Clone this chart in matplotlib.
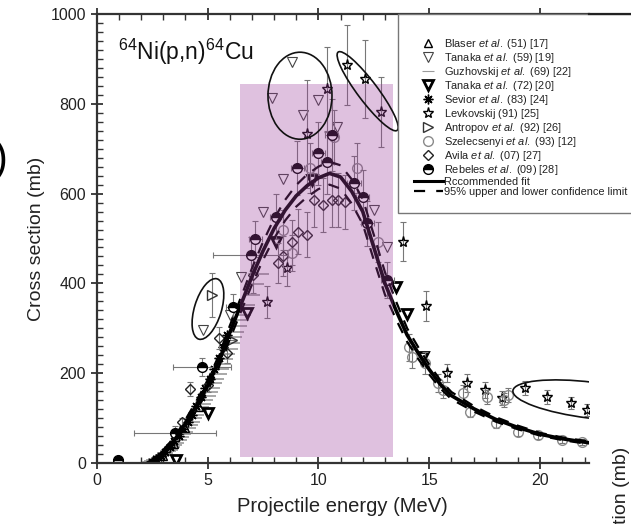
import matplotlib
matplotlib.use('Agg')
import matplotlib.pyplot as plt
from matplotlib.patches import Rectangle, Ellipse
from matplotlib.lines import Line2D
import matplotlib.transforms as mtransforms

plt.rcParams['font.family'] = ['Liberation Sans', 'DejaVu Sans']
plt.rcParams['mathtext.fontset'] = 'custom'
plt.rcParams['mathtext.rm'] = 'Liberation Sans'
plt.rcParams['mathtext.it'] = 'Liberation Sans:italic'

# ---- data (energy in MeV, cross section in mb) ----
blaser_e = [3.0, 3.5, 4.0, 4.6]
blaser_xs = [15, 42, 78, 125]

tanaka59_e = [8.8, 7.9, 10.0, 9.3, 10.85, 8.4, 7.5, 6.5, 12.5, 13.1, 4.8, 6.0]
tanaka59_xs = [894, 812, 808, 775, 749, 632, 559, 415, 563, 482, 296, 330]

guzh_e = [2.4, 2.5, 2.6, 2.7, 2.8, 2.9, 3.0, 3.1, 3.2, 3.3, 3.4, 3.5, 3.6,
          3.7, 3.8, 3.9, 4.0, 4.1, 4.2, 4.3, 4.4, 4.5, 4.6, 4.7, 4.8, 4.9,
          5.0, 5.1, 5.2, 5.3, 5.4, 5.5, 5.6, 5.7, 5.8, 5.9, 6.0, 6.1, 6.2,
          6.3, 6.4, 6.5, 6.6, 6.8, 7.0, 7.2, 7.4]
guzh_xs = [2, 4, 6, 9, 12, 15, 18, 22, 26, 30, 35, 40, 45,
           51, 58, 64, 70, 78, 85, 92, 100, 108, 116, 124, 132, 141,
           150, 159, 168, 178, 188, 199, 210, 221, 232, 243, 255, 267, 280,
           292, 305, 318, 330, 352, 375, 398, 420]

tanaka72_e = [3.6, 5.0, 6.8, 8.1, 9.7, 13.5, 14.0, 14.7]
tanaka72_xs = [7, 111, 334, 492, 630, 393, 332, 236]

sevior_e = [2.5, 2.7, 2.9, 3.1, 3.3, 3.5, 3.7, 3.9, 4.1, 4.3, 4.5, 4.7,
            4.9, 5.1, 5.3, 5.5, 5.7, 5.9]
sevior_xs = [3, 8, 15, 25, 35, 48, 60, 75, 92, 108, 126, 146,
             166, 188, 210, 234, 258, 284]

levk_e = [7.7, 8.6, 9.5, 10.4, 11.28, 12.1, 12.8, 13.8, 14.85, 15.8,
          16.7, 17.5, 18.3, 19.3, 20.3, 21.4, 22.1]
levk_xs = [359, 434, 733, 832, 886, 855, 781, 493, 350, 200,
           178, 163, 145, 167, 147, 134, 118]
levk_err = [35, 40, 120, 95, 89, 86, 78, 43, 34, 20,
            20, 18, 15, 15, 15, 14, 14]

antropov_e = [5.2, 6.1]
antropov_xs = [374, 274]
antropov_err = [49, 0]

szel_e = [8.8, 8.4, 9.6, 10.7, 11.75, 12.7, 14.1, 14.2, 14.8, 15.4, 15.6,
          16.5, 16.85, 17.6, 18.35, 18.55, 18.0, 19.0, 19.9, 21.0, 21.9]
szel_xs = [467, 519, 657, 726, 657, 492, 258, 236, 223, 178, 163,
           156, 114, 147, 140, 151, 89, 69, 62, 51, 47]
szel_err = [40, 45, 55, 60, 55, 45, 30, 25, 25, 20, 18,
            18, 12, 15, 15, 15, 10, 8, 8, 6, 6]

avila_e = [3.85, 4.2, 5.0, 5.5, 5.9, 7.05, 8.2, 8.4, 8.8, 9.1, 9.5,
           9.8, 10.2, 10.6, 10.9, 11.2]
avila_xs = [91, 165, 174, 278, 245, 419, 445, 461, 492, 515, 508,
            586, 575, 586, 586, 582]
avila_err = [10, 15, 15, 25, 22, 40, 45, 45, 50, 50, 50,
             60, 60, 60, 60, 60]

rebeles_e = [0.97, 3.55, 4.75, 6.15, 6.95, 7.15, 8.1, 9.05, 10.0, 10.4,
             10.6, 11.6, 12.0, 12.2, 13.1]
rebeles_xs = [7, 67, 214, 347, 463, 499, 548, 657, 690, 670,
              730, 624, 593, 534, 407]
rebeles_yerr = [0, 15, 20, 30, 40, 40, 50, 60, 70, 70, 80, 60, 60, 50, 40]
rebeles_xerr = [0, 1.85, 1.3, 0.3, 1.7, 0.3, 0.3, 0.3, 0.3, 0.3,
                0.3, 0.3, 0.3, 0.3, 0.3]

fit_e = [2.3, 2.6, 3.0, 3.5, 4.0, 4.5, 5.0, 5.5, 6.0, 6.5, 7.0, 7.5, 8.0,
         8.5, 9.0, 9.5, 10.0, 10.5, 11.0, 11.5, 12.0, 12.5, 13.0, 13.5,
         14.0, 14.5, 15.0, 15.5, 16.0, 17.0, 18.0, 19.0, 20.0, 21.0, 22.2]
fit_xs = [0, 8, 25, 50, 88, 128, 172, 225, 290, 352, 415, 472, 522,
          563, 595, 618, 635, 645, 637, 605, 560, 480, 400, 340,
          285, 245, 208, 175, 150, 121, 97, 79, 64, 54, 45]
fit_hi = [0, 10, 29, 56, 96, 138, 184, 238, 305, 368, 433, 492, 544,
          586, 619, 643, 660, 671, 663, 632, 588, 508, 425, 360,
          300, 258, 219, 184, 158, 127, 102, 83, 67, 57, 48]
fit_lo = [0, 6, 21, 44, 80, 118, 160, 212, 275, 336, 397, 452, 500,
          540, 571, 593, 610, 620, 611, 578, 532, 452, 375, 320,
          270, 232, 197, 166, 142, 115, 92, 75, 61, 51, 42]

# highlighted energy window and the hand-drawn ellipses
band_e = (6.45, 13.35)
band_xs = (13, 843)
# centre (MeV, mb), width px, height px, angle deg
ellipses = [(9.17, 818, 64, 87, 0),
            (12.22, 828, 98, 20, -53),
            (5.02, 343, 63, 27, 73),
            (22.26, 140, 156, 36, -7)]

W, H = 631, 524
fig = plt.figure(figsize=(W / 100, H / 100), dpi=100)
ax = fig.add_axes([96.6 / W, 1 - 463 / H, (589 - 96.6) / W, (463 - 14) / H])
ax.set_xlim(0, 22.2)
ax.set_ylim(0, 1000)

ebar = dict(ecolor='#777777', elinewidth=0.8, capsize=2, capthick=0.8)

st = {
    'blaser': dict(marker='^', ms=6, mfc='none', mec='k', mew=1.0),
    'tanaka59': dict(marker='v', ms=7.5, mfc='none', mec='#444444', mew=0.8),
    'guzh': dict(marker='_', ms=11, mew=1.2, color='#9a9a9a', mec='#9a9a9a'),
    'tanaka72': dict(marker='v', ms=6.5, mfc='none', mec='k', mew=2.0),
    'sevior': dict(marker=(8, 2, 0), ms=7, mec='k', mfc='k', mew=1.0),
    'levk': dict(marker='*', ms=8, mfc='none', mec='k', mew=1.0),
    'antropov': dict(marker='>', ms=7, mfc='none', mec='#333333', mew=1.0),
    'szel': dict(marker='o', ms=7, mfc='none', mec='#8a8a8a', mew=1.0),
    'avila': dict(marker='D', ms=5.5, mfc='none', mec='#222222', mew=1.0),
    'rebeles': dict(marker='o', ms=7, mfc='k', mfcalt='white',
                    fillstyle='top', mec='k', mew=1.0),
}

ax.plot(guzh_e, guzh_xs, ls='none', **st['guzh'])
ax.plot(blaser_e, blaser_xs, ls='none', **st['blaser'])
ax.plot(tanaka59_e, tanaka59_xs, ls='none', **st['tanaka59'])
ax.plot(tanaka72_e, tanaka72_xs, ls='none', **st['tanaka72'])
ax.plot(sevior_e, sevior_xs, ls='none', **st['sevior'])
ax.errorbar(levk_e, levk_xs, yerr=levk_err, fmt='none', **ebar)
ax.plot(levk_e, levk_xs, ls='none', **st['levk'])
ax.errorbar(antropov_e, antropov_xs, yerr=antropov_err, fmt='none', **ebar)
ax.plot(antropov_e, antropov_xs, ls='none', **st['antropov'])
ax.errorbar(szel_e, szel_xs, yerr=szel_err, fmt='none', **ebar)
ax.plot(szel_e, szel_xs, ls='none', **st['szel'])
ax.errorbar(avila_e, avila_xs, yerr=avila_err, fmt='none', **ebar)
ax.plot(avila_e, avila_xs, ls='none', **st['avila'])
ax.errorbar(rebeles_e, rebeles_xs, yerr=rebeles_yerr, xerr=rebeles_xerr,
            fmt='none', **ebar)
ax.plot(rebeles_e, rebeles_xs, ls='none', **st['rebeles'])

ax.plot(fit_e, fit_xs, color='k', lw=2.6)
ax.plot(fit_e, fit_hi, color='k', lw=1.6, dashes=(5, 4))
ax.plot(fit_e, fit_lo, color='k', lw=1.6, dashes=(5, 4))

# lilac band drawn on top so it tints the points under it
ax.add_patch(Rectangle((band_e[0], band_xs[0]), band_e[1] - band_e[0],
                       band_xs[1] - band_xs[0], facecolor='#9c3e9c',
                       alpha=0.32, lw=0, zorder=5))

sx = ax.get_position().width * W / 22.2
sy = ax.get_position().height * H / 1000
ptrans = mtransforms.Affine2D().scale(1 / sx, 1 / sy) + ax.transData
for cx, cy, w, h, ang in ellipses:
    ax.add_patch(Ellipse((cx * sx, cy * sy), w, h, angle=ang, fill=False,
                         ec='#111111', lw=1.2, transform=ptrans, zorder=6))

ax.text(0.97, 915, r'$^{64}$Ni(p,n)$^{64}$Cu', fontsize=16.5, va='center',
        color='#111111')

# axes styling
for s in ['left', 'bottom', 'top']:
    ax.spines[s].set_linewidth(1.6)
    ax.spines[s].set_color('#333333')
ax.spines['right'].set_visible(False)
ax.set_xticks([0, 5, 10, 15, 20])
ax.set_xticks(range(0, 23), minor=True)
ax.set_yticks([0, 200, 400, 600, 800, 1000])
ax.set_yticks(range(0, 1001, 20), minor=True)
ax.tick_params(which='major', direction='inout', length=8, width=1.3,
               labelsize=11.5, colors='#333333', labelcolor='#222222',
               top=True, right=False)
ax.tick_params(which='minor', direction='in', length=4, width=1.0,
               colors='#333333', top=True, right=False)
ax.set_xlabel('Projectile energy (MeV)', fontsize=14.5, color='#222222',
              labelpad=6)
ax.set_ylabel('Cross section (mb)', fontsize=14, color='#222222', labelpad=4)

# legend in the reference order, plain markers
leg_items = [
    ('blaser', r'Blaser $\mathit{et\ al.\ (51)}$ [17]'),
    ('tanaka59', r'Tanaka $\mathit{et\ al.\ (59)}$ [19]'),
    ('guzh', r'Guzhovskij $\mathit{et\ al.\ (69)}$ [22]'),
    ('tanaka72', r'Tanaka $\mathit{et\ al.\ (72)}$ [20]'),
    ('sevior', r'Sevior $\mathit{et\ al.\ (83)}$ [24]'),
    ('levk', r'Levkovskij $\mathit{(91)}$ [25]'),
    ('antropov', r'Antropov $\mathit{et\ al.\ (92)}$ [26]'),
    ('szel', r'Szelecsenyi $\mathit{et\ al.\ (93)}$ [12]'),
    ('avila', r'Avila $\mathit{et\ al.\ (07)}$ [27]'),
    ('rebeles', r'Rebeles $\mathit{et\ al.\ (09)}$ [28]'),
]
handles = []
labels = []
for key, lab in leg_items:
    kw = dict(st[key])
    if key == 'guzh':
        kw['ms'] = 8
        kw['mew'] = 0.8
    handles.append(Line2D([], [], ls='none', **kw))
    labels.append(lab)
handles.append(Line2D([], [], color='k', lw=2.2))
labels.append('Rccommended fit')
handles.append(Line2D([], [], color='k', lw=1.6, dashes=(5, 5)))
labels.append('95% upper and lower confidence limit')

# legend box (its top edge is the axes top line)
ax.add_patch(Rectangle((398 / W, 1 - 213 / H), (700 - 398) / W, (213 - 14) / H,
                       transform=fig.transFigure, clip_on=False,
                       facecolor='white', edgecolor='#777777', lw=1.0,
                       zorder=9))
leg = ax.legend(handles, labels, loc='upper left',
                bbox_to_anchor=(414 / W, 1 - 37 / H),
                bbox_transform=fig.transFigure,
                borderaxespad=0, fontsize=7.9, numpoints=1, handlelength=2.6,
                handletextpad=0.1, labelspacing=0.0, borderpad=0,
                frameon=False)
leg.set_zorder(10)
for t in leg.get_texts():
    t.set_color('#222222')

# bits of the neighbouring panels that show in the crop
fig.add_artist(Line2D([589 / W, 1.0], [1 - 14 / H, 1 - 14 / H], color='#222222',
                      lw=1.6))
fig.text(-6 / W, 1 - 160 / H, ')', fontsize=30, ha='left', va='center')
fig.text(621 / W, 1 - 447 / H, 'Cross section (mb)', fontsize=14, rotation=90,
         ha='center', va='top', color='#222222')

fig.savefig('out.png', dpi=100)
